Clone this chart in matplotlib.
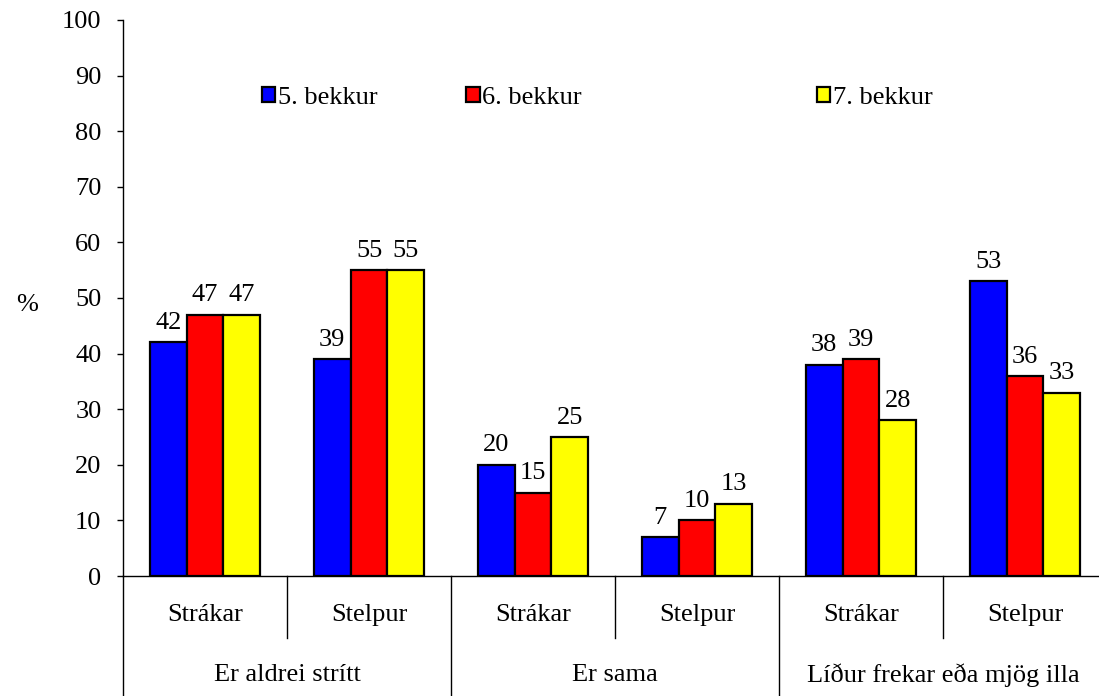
import numpy as np
import matplotlib
matplotlib.use('Agg')
import matplotlib.pyplot as plt
import matplotlib.transforms as mtransforms
from matplotlib.legend import Legend

plt.rcParams['font.family'] = ['Liberation Serif', 'DejaVu Serif']
plt.rcParams['font.size'] = 19

groups = ['Er aldrei strítt', 'Er sama', 'Líður frekar eða mjög illa']
subcats = ['Strákar', 'Stelpur']
series = ['5. bekkur', '6. bekkur', '7. bekkur']
colors = ['#0000ff', '#ff0000', '#ffff00']

# one value per (group, subcategory), in order
bekkur5 = [42, 39, 20, 7, 38, 53]
bekkur6 = [47, 55, 15, 10, 39, 36]
bekkur7 = [47, 55, 25, 13, 28, 33]
values = [bekkur5, bekkur6, bekkur7]

fig = plt.figure(figsize=(10.99, 6.96), dpi=100)
ax = fig.add_axes([0.1119, 0.1724, 0.8955, 0.7989])

x = np.arange(len(bekkur5))
w = 0.224
handles = []
for i, (vals, c) in enumerate(zip(values, colors)):
    bars = ax.bar(x + (i - 1) * w, vals, w, color=c, edgecolor='black', linewidth=1.6)
    ax.bar_label(bars, padding=6, fontsize=19)
    handles.append(bars)

ax.set_xlim(-0.5, len(x) - 0.5)
ax.set_ylim(0, 100)
ax.set_yticks(range(0, 101, 10))
ax.set_xticks([])
ax.tick_params(axis='y', direction='out', length=4.5, width=1, pad=11)
for s in ['top', 'right']:
    ax.spines[s].set_visible(False)
ax.spines['left'].set_linewidth(1)
ax.spines['bottom'].set_linewidth(1)

ax.set_ylabel('%', rotation=0, fontsize=19, va='center')
ax.yaxis.set_label_coords(-0.097, 0.487)

# category labels below the axis
trans = mtransforms.blended_transform_factory(ax.transData, ax.transAxes)
for i in x:
    ax.text(i, -0.07, subcats[i % 2], transform=trans, ha='center', va='center')
for g, name in enumerate(groups):
    ax.text(2 * g + 0.5, -0.178, name, transform=trans, ha='center', va='center')

# divider lines
for i in range(len(x) + 1):
    bottom = -0.112 if i % 2 else -0.25
    ax.plot([i - 0.5, i - 0.5], [0, bottom], transform=trans, color='black', lw=1, clip_on=False)

# legend entries with uneven spacing, as in the original
leg_x = [0.141, 0.349, 0.705]
for h, l, lx in zip(handles, series, leg_x):
    leg = Legend(ax, [h], [l], loc='center left', bbox_to_anchor=(lx, 0.86), frameon=False,
                 handlelength=0.5, handleheight=0.5, handletextpad=0.1,
                 borderpad=0, borderaxespad=0, fontsize=19)
    ax.add_artist(leg)

fig.savefig('out.png', dpi=100)
